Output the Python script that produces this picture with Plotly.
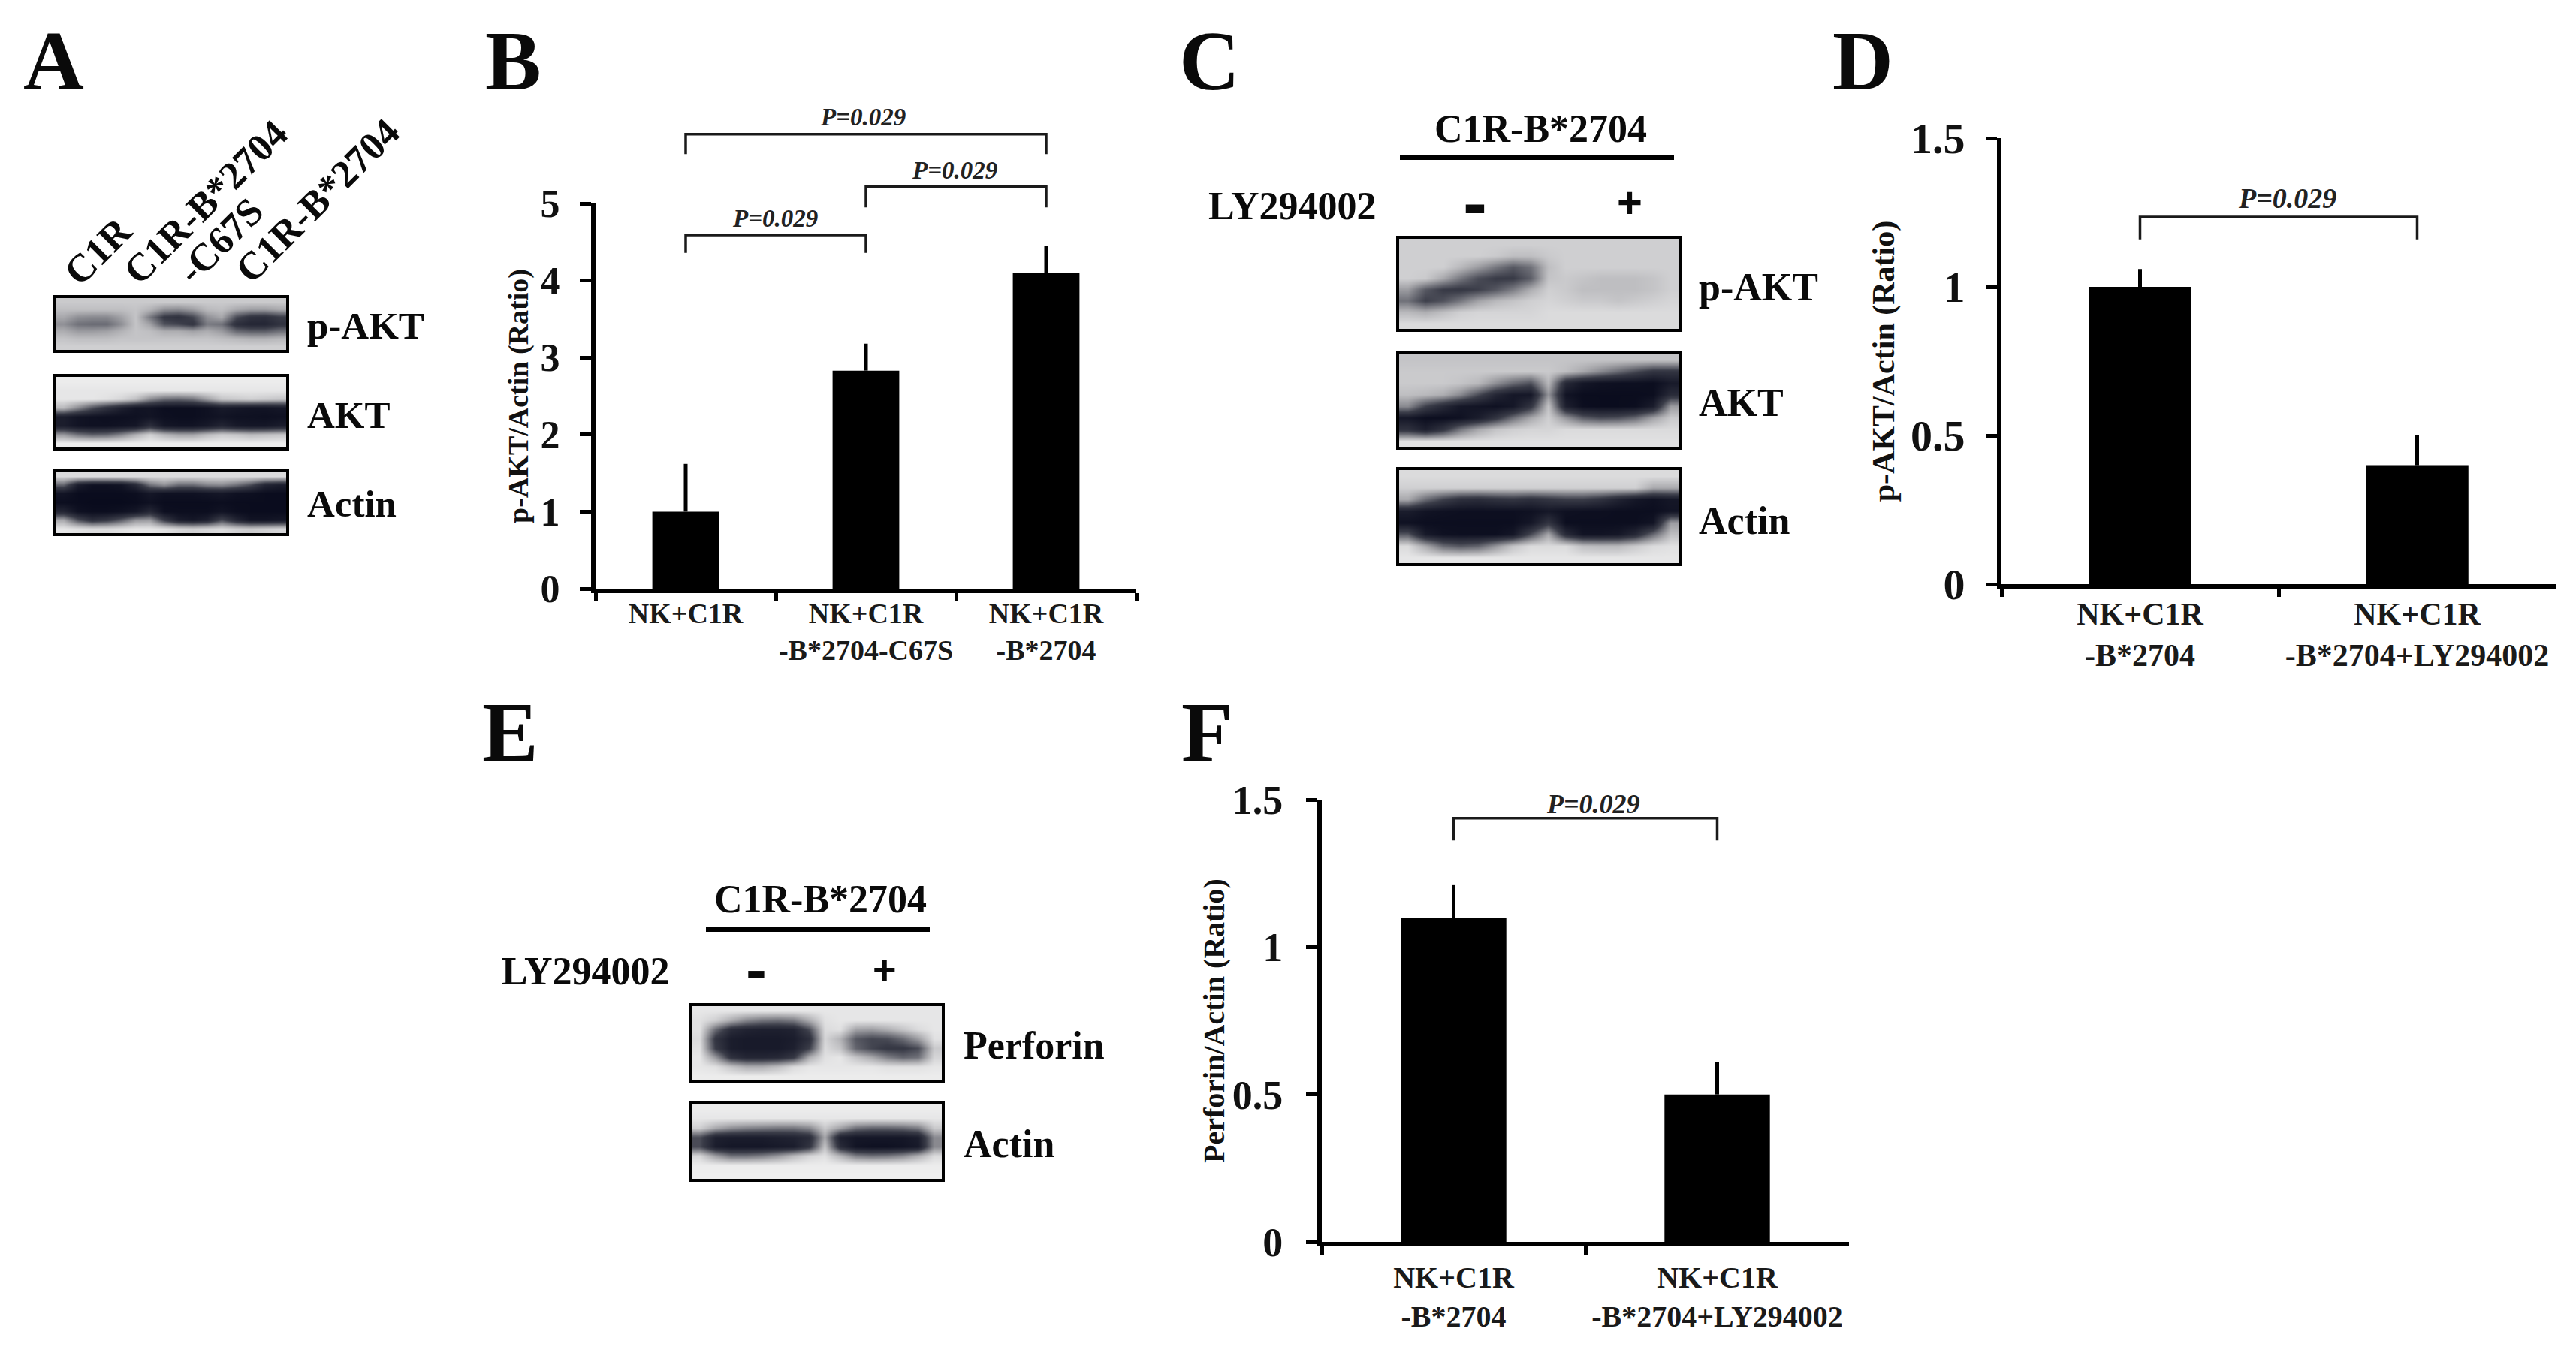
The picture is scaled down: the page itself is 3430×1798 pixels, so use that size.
import plotly.graph_objects as go

W = 3430
H = 1798
SERIF = "Liberation Serif"
SANS = "Liberation Sans"

# ---------------------------------------------------------
# 1. Data
# ---------------------------------------------------------
b_categories = ["NK+C1R", "NK+C1R<br>-B*2704-C67S", "NK+C1R<br>-B*2704"]
b_values = [1.0, 2.83, 4.1]
b_errors = [0.62, 0.35, 0.35]
b_ticks = [0, 1, 2, 3, 4, 5]

d_categories = ["NK+C1R<br>-B*2704", "NK+C1R<br>-B*2704+LY294002"]
d_values = [1.0, 0.4]
d_errors = [0.06, 0.1]
d_ticks = [0, 0.5, 1, 1.5]

f_categories = ["NK+C1R<br>-B*2704", "NK+C1R<br>-B*2704+LY294002"]
f_values = [1.1, 0.5]
f_errors = [0.11, 0.11]
f_ticks = [0, 0.5, 1, 1.5]

p_text = "P=0.029"

# band intensities of the blots, 0 = black, 100 = white
a_pakt = [
    [82, 82, 82, 82, 82, 82, 82, 82, 82, 82, 82, 82, 82, 82, 82, 82],
    [78, 78, 78, 78, 78, 80, 74, 62, 60, 66, 76, 78, 70, 66, 66, 70],
    [70, 62, 60, 60, 68, 80, 55, 32, 28, 38, 62, 70, 40, 28, 26, 34],
    [62, 52, 50, 50, 62, 80, 68, 42, 38, 30, 55, 52, 26, 20, 20, 28],
    [72, 66, 66, 68, 74, 80, 78, 72, 72, 68, 72, 66, 50, 46, 46, 52],
    [80, 78, 78, 78, 80, 80, 80, 80, 80, 80, 80, 78, 76, 74, 74, 76],
    [84, 84, 84, 84, 84, 84, 84, 84, 84, 84, 84, 84, 84, 84, 84, 84],
]
a_akt = [
    [94, 94, 94, 94, 94, 94, 94, 94, 94, 94, 94, 94, 94, 94, 94, 94],
    [92, 92, 92, 92, 92, 92, 92, 92, 92, 92, 92, 92, 92, 92, 92, 92],
    [92, 92, 92, 90, 86, 78, 60, 50, 48, 52, 66, 80, 82, 84, 82, 80],
    [76, 60, 42, 28, 16, 8, 8, 4, 4, 4, 6, 12, 10, 8, 8, 10],
    [14, 8, 6, 5, 5, 6, 8, 5, 4, 4, 6, 8, 6, 6, 5, 6],
    [14, 8, 6, 6, 8, 10, 26, 10, 8, 8, 12, 20, 12, 10, 10, 14],
    [64, 52, 46, 48, 58, 72, 84, 74, 68, 68, 76, 82, 80, 76, 78, 80],
    [94, 94, 94, 94, 94, 94, 94, 94, 94, 94, 94, 94, 94, 94, 94, 94],
]
a_actin = [
    [88, 88, 88, 88, 88, 88, 88, 88, 88, 88, 88, 88, 88, 88, 88, 88],
    [48, 14, 6, 6, 8, 22, 52, 62, 50, 50, 58, 60, 52, 40, 20, 14],
    [8, 3, 3, 3, 3, 4, 10, 6, 6, 6, 8, 10, 6, 5, 3, 3],
    [4, 3, 2, 2, 2, 3, 6, 3, 3, 3, 3, 4, 3, 3, 3, 3],
    [20, 6, 4, 4, 6, 10, 22, 5, 4, 4, 4, 8, 4, 3, 3, 3],
    [70, 42, 26, 32, 46, 64, 66, 34, 14, 10, 16, 40, 20, 8, 8, 10],
    [92, 90, 88, 88, 90, 92, 92, 90, 86, 84, 86, 88, 84, 82, 84, 86],
]
c_pakt = [
    [84, 84, 84, 84, 84, 84, 84, 84, 84, 84, 84, 84, 84, 84, 84, 84],
    [84, 84, 84, 84, 84, 82, 78, 78, 82, 84, 84, 84, 84, 84, 84, 84],
    [84, 84, 84, 76, 66, 54, 44, 52, 78, 84, 84, 84, 84, 84, 84, 84],
    [84, 82, 70, 54, 40, 34, 34, 46, 80, 82, 80, 78, 78, 78, 80, 84],
    [66, 44, 34, 32, 36, 44, 56, 72, 84, 82, 78, 78, 78, 78, 80, 84],
    [52, 36, 42, 54, 68, 76, 80, 84, 86, 84, 82, 82, 80, 82, 84, 86],
    [76, 72, 78, 84, 86, 86, 86, 86, 88, 88, 88, 88, 88, 88, 88, 88],
    [88, 88, 88, 88, 88, 88, 88, 88, 88, 88, 88, 88, 88, 88, 88, 88],
]
c_akt = [
    [80, 80, 80, 80, 80, 80, 80, 80, 80, 80, 80, 80, 80, 80, 80, 80],
    [82, 82, 82, 82, 82, 82, 82, 82, 82, 78, 70, 60, 50, 40, 30, 30],
    [82, 82, 82, 80, 76, 62, 50, 42, 76, 22, 10, 6, 5, 5, 4, 12],
    [78, 76, 72, 60, 40, 20, 10, 10, 64, 8, 3, 3, 3, 3, 4, 24],
    [60, 36, 22, 10, 8, 6, 10, 30, 80, 16, 4, 3, 3, 4, 14, 66],
    [10, 4, 4, 6, 14, 30, 52, 70, 84, 64, 46, 40, 42, 50, 68, 82],
    [28, 16, 30, 54, 70, 80, 84, 86, 86, 88, 88, 88, 88, 88, 88, 88],
    [90, 90, 90, 90, 90, 90, 90, 90, 90, 90, 90, 90, 90, 90, 90, 90],
]
c_actin = [
    [88, 88, 88, 88, 88, 88, 88, 88, 88, 88, 88, 88, 88, 88, 88, 88],
    [84, 84, 84, 84, 84, 84, 84, 84, 84, 84, 84, 84, 84, 84, 70, 70],
    [70, 50, 36, 26, 24, 28, 30, 26, 30, 34, 34, 28, 18, 10, 6, 10],
    [14, 8, 6, 5, 5, 5, 5, 6, 10, 6, 5, 5, 4, 4, 4, 8],
    [6, 4, 4, 4, 4, 4, 4, 10, 30, 4, 4, 4, 4, 4, 8, 66],
    [44, 12, 6, 5, 5, 5, 10, 40, 70, 24, 8, 8, 10, 22, 50, 78],
    [88, 70, 50, 44, 48, 64, 80, 88, 88, 88, 78, 76, 76, 82, 88, 90],
    [92, 92, 92, 92, 92, 92, 92, 92, 92, 92, 92, 92, 92, 92, 92, 92],
]
e_perforin = [
    [92, 92, 92, 92, 92, 92, 92, 92, 92, 92, 92, 92, 92, 92, 92, 92],
    [90, 84, 72, 60, 54, 52, 56, 72, 90, 92, 92, 92, 92, 92, 92, 92],
    [90, 50, 24, 18, 16, 16, 18, 40, 88, 90, 68, 66, 72, 80, 88, 92],
    [88, 30, 14, 12, 12, 12, 14, 26, 86, 74, 44, 38, 40, 50, 66, 90],
    [90, 34, 14, 12, 12, 12, 16, 36, 88, 80, 48, 38, 32, 32, 40, 82],
    [92, 64, 28, 20, 20, 22, 32, 72, 90, 92, 80, 70, 56, 48, 52, 86],
    [92, 90, 80, 72, 72, 78, 88, 92, 92, 92, 92, 92, 90, 90, 90, 92],
    [94, 94, 94, 94, 94, 94, 94, 94, 94, 94, 94, 94, 94, 94, 94, 94],
]
e_actin = [
    [94, 94, 94, 94, 94, 94, 94, 94, 94, 94, 94, 94, 94, 94, 94, 94],
    [92, 92, 92, 92, 92, 92, 92, 92, 92, 92, 92, 92, 92, 92, 92, 92],
    [84, 70, 62, 58, 56, 54, 54, 60, 82, 68, 52, 48, 48, 50, 56, 82],
    [40, 16, 14, 14, 14, 16, 18, 24, 70, 16, 10, 10, 10, 10, 14, 60],
    [40, 14, 10, 10, 10, 12, 14, 30, 80, 24, 8, 6, 6, 8, 12, 60],
    [86, 66, 52, 52, 56, 64, 76, 86, 90, 74, 56, 52, 54, 60, 72, 88],
    [94, 94, 94, 94, 94, 94, 94, 94, 94, 94, 94, 94, 94, 94, 94, 94],
    [95, 95, 95, 95, 95, 95, 95, 95, 95, 95, 95, 95, 95, 95, 95, 95],
]

blot_scale = [[0, "#06081a"], [0.35, "#3a3c48"], [0.7, "#a8a8ac"],
              [0.85, "#d2d2d4"], [0.95, "#efefef"], [1, "#f8f8f8"]]


def px_x(x):
    return x / W


def px_y(y):
    return 1 - y / H


def label(text, x, y, size, angle=0, family=SERIF):
    fig.add_annotation(
        text=text, x=px_x(x), y=px_y(y), xref="paper", yref="paper",
        xanchor="center", yanchor="middle", showarrow=False, textangle=angle,
        font=dict(family=family, size=size, color="#0a0a0a", weight="bold"),
    )


def left_label(text, x, y, size):
    fig.add_annotation(
        text=text, x=px_x(x), y=px_y(y), xref="paper", yref="paper",
        xanchor="left", yanchor="middle", showarrow=False,
        font=dict(family=SERIF, size=size, color="#0a0a0a", weight="bold"),
    )


fig = go.Figure()
axis_count = 0


def next_axes():
    global axis_count
    axis_count += 1
    n = "" if axis_count == 1 else str(axis_count)
    return n


# ---------------------------------------------------------
# 2. Blots: heatmaps with a black frame
# ---------------------------------------------------------
def add_blot(z, x0, x1, y0, y1):
    n = next_axes()
    fig.add_trace(go.Heatmap(
        z=z, xaxis="x" + n, yaxis="y" + n, zmin=0, zmax=100,
        colorscale=blot_scale, zsmooth="best", showscale=False, hoverinfo="skip",
    ))
    frame = dict(showline=True, mirror=True, linecolor="black", linewidth=4,
                 showticklabels=False, ticks="", showgrid=False, zeroline=False)
    inset = 3
    fig.update_layout({
        "xaxis" + n: dict(domain=[px_x(x0 + inset), px_x(x1 - inset)], anchor="y" + n, **frame),
        "yaxis" + n: dict(domain=[px_y(y1 - inset), px_y(y0 + inset)], anchor="x" + n,
                          autorange="reversed", **frame),
    })


add_blot(a_pakt, 72, 384, 394, 469)
add_blot(a_akt, 72, 384, 499, 599)
add_blot(a_actin, 72, 384, 625, 713)
add_blot(c_pakt, 1860, 2239, 315, 441)
add_blot(c_akt, 1860, 2239, 468, 598)
add_blot(c_actin, 1860, 2239, 623, 753)
add_blot(e_perforin, 918, 1257, 1337, 1442)
add_blot(e_actin, 918, 1257, 1468, 1573)


# ---------------------------------------------------------
# 3. Bar panels
# ---------------------------------------------------------
def add_bars(cats, values, errors, ticks, ymax, box, ytitle, sizes, gap, standoff,
             tick_standoff, cat_standoff, brackets, bracket_top):
    n = next_axes()
    x0, x1, y0, y1 = box
    tick_size, cat_size, title_size, p_size = sizes
    fig.add_trace(go.Bar(
        x=cats, y=values, xaxis="x" + n, yaxis="y" + n,
        marker=dict(color="black", line_width=0), width=1 - gap,
        error_y=dict(type="data", array=errors, arrayminus=[0] * len(errors), symmetric=False,
                     color="black", thickness=5, width=0),
        showlegend=False,
    ))
    fig.update_layout({
        "xaxis" + n: dict(
            domain=[px_x(x0), px_x(x1)], anchor="y" + n, type="category",
            range=[-0.5, len(cats) - 0.5], tickson="boundaries", ticks="outside",
            ticklen=11, tickwidth=5, tickcolor="black", showline=True, linecolor="black",
            linewidth=6, showgrid=False, zeroline=False, ticklabelstandoff=cat_standoff,
            tickangle=0,
            tickfont=dict(family=SERIF, size=cat_size, color="#1a1a1a", weight="bold"),
        ),
        "yaxis" + n: dict(
            domain=[px_y(y1), px_y(y0)], anchor="x" + n, range=[0, ymax],
            tickvals=ticks, ticktext=[str(t) for t in ticks], ticks="outside", ticklen=15,
            tickwidth=5, tickcolor="black", showline=True, linecolor="black", linewidth=6,
            showgrid=False, zeroline=False, ticklabelstandoff=tick_standoff,
            tickfont=dict(family=SERIF, size=tick_size, color="#111111", weight="bold"),
            title=dict(text=ytitle, standoff=standoff,
                       font=dict(family=SERIF, size=title_size, color="#111111", weight="bold")),
        ),
    })

    # significance brackets sit on hidden axes that reach above the bars' axis, same scale
    m = next_axes()
    hidden = dict(visible=False, showgrid=False, zeroline=False)
    fig.update_layout({
        "xaxis" + m: dict(domain=[px_x(x0), px_x(x1)], anchor="y" + m, type="category",
                          categoryorder="array", categoryarray=cats,
                          range=[-0.5, len(cats) - 0.5], **hidden),
        "yaxis" + m: dict(domain=[px_y(y1), px_y(bracket_top)], anchor="x" + m,
                          range=[0, ymax * (y1 - bracket_top) / (y1 - y0)], **hidden),
    })
    for left, right, top, drop, shift, lift in brackets:
        fig.add_trace(go.Scatter(
            x=[cats[left], cats[left], cats[right], cats[right]],
            y=[drop, top, top, drop], xaxis="x" + m, yaxis="y" + m, mode="lines",
            line=dict(color="#1a1a1a", width=3.5),
            hoverinfo="skip", showlegend=False,
        ))
        fig.add_annotation(
            text=p_text, x=(left + right) / 2, y=top, xref="x" + m, yref="y" + m,
            xanchor="center", yanchor="middle", xshift=shift, yshift=lift, showarrow=False,
            font=dict(family=SERIF, size=p_size, color="#222222", weight="bold", style="italic"),
        )


b_brackets = [(0, 2, 5.90, 5.64, -4, 23), (1, 2, 5.22, 4.95, -2, 21), (0, 1, 4.59, 4.36, -1, 22)]
d_brackets = [(0, 1, 1.235, 1.16, 11, 25)]
f_brackets = [(0, 1, 1.437, 1.362, 10, 19)]

add_bars(b_categories, b_values, b_errors, b_ticks, 5, (793, 1513, 271, 784),
         "p-AKT/Actin (Ratio)", (52, 38, 38, 33), 0.63, 6, 16, -6, b_brackets, 130)
add_bars(d_categories, d_values, d_errors, d_ticks, 1.5, (2665, 3403, 184, 778),
         "p-AKT/Actin (Ratio)", (58, 42, 42, 38), 0.63, 10, 16, -2, d_brackets, 184)
add_bars(f_categories, f_values, f_errors, f_ticks, 1.5, (1760, 2462, 1065, 1654),
         "Perforin/Actin (Ratio)", (54, 40, 40, 36), 0.60, 0, 20, 7, f_brackets, 1040)

# ---------------------------------------------------------
# 4. Text around the blots and panel letters
# ---------------------------------------------------------
label("A", 71, 81, 112)
label("B", 683, 81, 112)
label("C", 1610, 81, 112)
label("D", 2480, 81, 112)
label("E", 679, 975, 112)
label("F", 1607, 975, 112)

label("C1R", 130, 334, 52, angle=-45)
label("C1R-B*2704", 273, 269, 52, angle=-45)
label("-C67S", 293, 320, 52, angle=-45)
label("C1R-B*2704", 422, 267, 52, angle=-45)

left_label("p-AKT", 407, 434, 51)
left_label("AKT", 407, 553, 51)
left_label("Actin", 407, 671, 51)

label("C1R-B*2704", 2051, 171, 52)
label("LY294002", 1720, 274, 52)
label("-", 1964, 269, 96, family=SANS)
label("+", 2170, 269, 58, family=SANS)
left_label("p-AKT", 2260, 383, 52)
left_label("AKT", 2260, 536, 52)
left_label("Actin", 2260, 693, 52)

label("C1R-B*2704", 1092, 1197, 52)
label("LY294002", 779, 1293, 52)
label("-", 1007, 1291, 84, family=SANS)
label("+", 1178, 1291, 54, family=SANS)
left_label("Perforin", 1281, 1392, 52)
left_label("Actin", 1281, 1523, 52)

for x0, x1, y in [(1864, 2229, 210), (940, 1238, 1238)]:
    fig.add_shape(type="line", xref="paper", yref="paper", x0=px_x(x0), x1=px_x(x1),
                  y0=px_y(y), y1=px_y(y), line=dict(color="black", width=6))

# ---------------------------------------------------------
# 5. Layout
# ---------------------------------------------------------
fig.update_layout(
    template="none",
    width=W, height=H, margin=dict(l=0, r=0, t=0, b=0, pad=0),
    plot_bgcolor="rgba(0,0,0,0)", paper_bgcolor="white", showlegend=False,
    font=dict(family=SERIF),
)

fig.write_html("out.html", config=dict(displayModeBar=False),
               post_script="document.body.style.margin='0';")
